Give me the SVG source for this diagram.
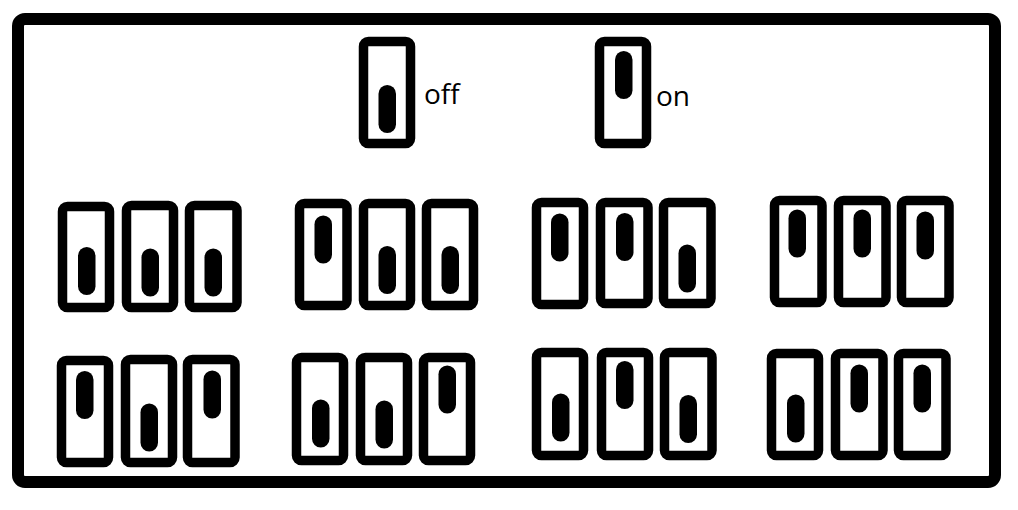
<svg xmlns="http://www.w3.org/2000/svg" width="1018" height="510" viewBox="0 0 1018 510">
<style>
.frame{fill:#fff;stroke:#000;stroke-width:12}
.sw{fill:#fff;stroke:#000;stroke-width:9.5}
.k{fill:#000}
.lbl{font-family:"Open Sans","Noto Sans",sans-serif;font-size:28px;fill:#000}
</style>
<rect width="1018" height="510" fill="#fff"/>
<g id="frame"><rect class="frame" x="18" y="19" width="977" height="463" rx="7"/></g>
<g id="legend-off">
<rect class="sw" x="363.5" y="41.5" width="47" height="102" rx="5"/>
<rect class="k" x="378.5" y="85" width="17.5" height="48" rx="8.75"/>
<text class="lbl" x="424" y="104">off</text>
</g>
<g id="legend-on">
<rect class="sw" x="599.5" y="41.5" width="47" height="102" rx="5"/>
<rect class="k" x="615" y="51" width="17.5" height="48" rx="8.75"/>
<text class="lbl" x="656" y="106">on</text>
</g>
<g id="r1g1">
<rect class="sw" x="62.5" y="206.5" width="47" height="101" rx="5"/><rect class="k" x="78" y="247" width="17.5" height="48" rx="8.75"/>
<rect class="sw" x="126.5" y="205.5" width="47" height="102" rx="5"/><rect class="k" x="141.5" y="248.5" width="17.5" height="48" rx="8.75"/>
<rect class="sw" x="189.5" y="205.5" width="47.5" height="102" rx="5"/><rect class="k" x="204.5" y="248.5" width="17.5" height="48" rx="8.75"/>
</g>
<g id="r1g2">
<rect class="sw" x="299.5" y="203.5" width="47.5" height="102" rx="5"/><rect class="k" x="314.5" y="215.5" width="17.5" height="48" rx="8.75"/>
<rect class="sw" x="363.5" y="203.5" width="47" height="102" rx="5"/><rect class="k" x="378.5" y="246" width="17.5" height="48" rx="8.75"/>
<rect class="sw" x="426.5" y="203.5" width="47" height="102" rx="5"/><rect class="k" x="441.5" y="246" width="17.5" height="48" rx="8.75"/>
</g>
<g id="r1g3">
<rect class="sw" x="536.5" y="202.5" width="47" height="102" rx="5"/><rect class="k" x="551" y="213.5" width="17.5" height="48" rx="8.75"/>
<rect class="sw" x="600.5" y="202.5" width="47.5" height="101" rx="5"/><rect class="k" x="616" y="213" width="17.5" height="48" rx="8.75"/>
<rect class="sw" x="663.5" y="202.5" width="47.5" height="101" rx="5"/><rect class="k" x="678.5" y="244.5" width="17.5" height="48" rx="8.75"/>
</g>
<g id="r1g4">
<rect class="sw" x="774.5" y="200.5" width="47.5" height="102" rx="5"/><rect class="k" x="788.5" y="209.5" width="17.5" height="48" rx="8.75"/>
<rect class="sw" x="838.5" y="200.5" width="47.5" height="102" rx="5"/><rect class="k" x="853.5" y="209.5" width="17.5" height="48" rx="8.75"/>
<rect class="sw" x="901.5" y="200.5" width="47.5" height="102" rx="5"/><rect class="k" x="916.5" y="211.5" width="17.5" height="48" rx="8.75"/>
</g>
<g id="r2g1">
<rect class="sw" x="61.5" y="360.5" width="47" height="102" rx="5"/><rect class="k" x="76" y="371" width="17.5" height="48" rx="8.75"/>
<rect class="sw" x="125.5" y="359.5" width="47" height="103" rx="5"/><rect class="k" x="140.5" y="403.5" width="17.5" height="48" rx="8.75"/>
<rect class="sw" x="187.5" y="359.5" width="47.5" height="103" rx="5"/><rect class="k" x="203.5" y="370.5" width="17.5" height="48" rx="8.75"/>
</g>
<g id="r2g2">
<rect class="sw" x="296.5" y="357.5" width="47" height="103" rx="5"/><rect class="k" x="312" y="399.5" width="17.5" height="48" rx="8.75"/>
<rect class="sw" x="360.5" y="357.5" width="47" height="103" rx="5"/><rect class="k" x="375.5" y="400.5" width="17.5" height="48" rx="8.75"/>
<rect class="sw" x="423.5" y="357.5" width="47" height="103" rx="5"/><rect class="k" x="438.5" y="365.5" width="17.5" height="48" rx="8.75"/>
</g>
<g id="r2g3">
<rect class="sw" x="536.5" y="352.5" width="47" height="103" rx="5"/><rect class="k" x="552" y="393.5" width="17.5" height="48" rx="8.75"/>
<rect class="sw" x="601.5" y="352.5" width="47" height="103" rx="5"/><rect class="k" x="616" y="361" width="17.5" height="48" rx="8.75"/>
<rect class="sw" x="664.5" y="352.5" width="47.5" height="103" rx="5"/><rect class="k" x="679.5" y="395" width="17.5" height="48" rx="8.75"/>
</g>
<g id="r2g4">
<rect class="sw" x="771.5" y="353.5" width="47" height="102" rx="5"/><rect class="k" x="787" y="394.5" width="17.5" height="48" rx="8.75"/>
<rect class="sw" x="835.5" y="353.5" width="47.5" height="102" rx="5"/><rect class="k" x="850.5" y="364.5" width="17.5" height="48" rx="8.75"/>
<rect class="sw" x="898.5" y="353.5" width="47.5" height="102" rx="5"/><rect class="k" x="913.5" y="364.5" width="17.5" height="48" rx="8.75"/>
</g>
<g id="connectors"></g>
</svg>
